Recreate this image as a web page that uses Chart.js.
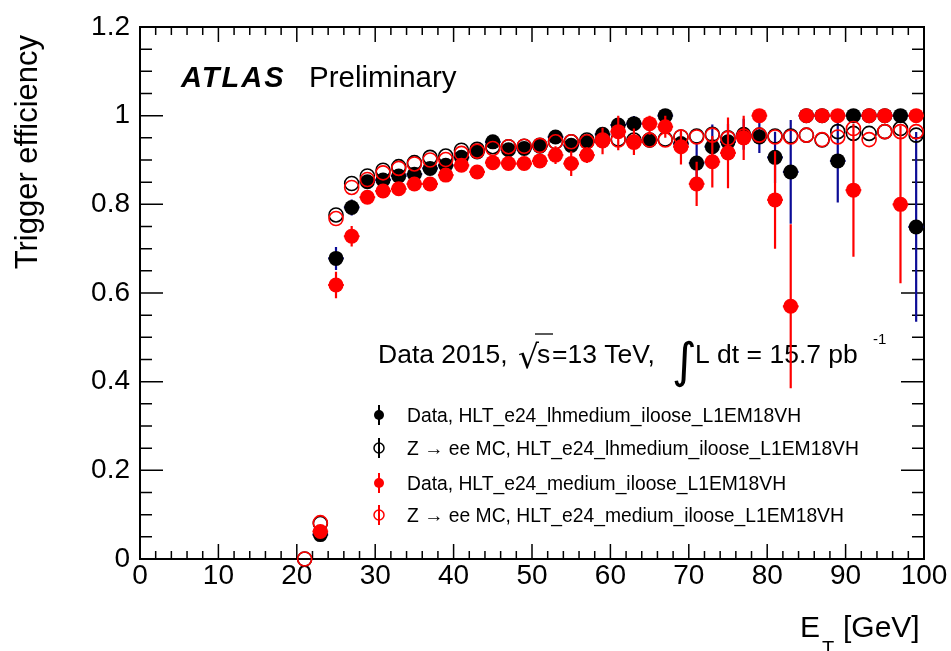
<!DOCTYPE html>
<html>
<head>
<meta charset="utf-8">
<script src="https://cdn.jsdelivr.net/npm/chart.js@4.4.1/dist/chart.umd.min.js"></script>
<style>
  body { margin: 0; background: #fff; }
  #wrap { width: 951px; height: 651px; }
</style>
</head>
<body>
<div id="wrap"><canvas id="effChart" width="951" height="651"></canvas></div>
<script>
// bin centres (2 GeV bins)
const etBins = [21, 23, 25, 27, 29, 31, 33, 35, 37, 39, 41, 43, 45, 47, 49, 51, 53, 55, 57, 59,
                61, 63, 65, 67, 69, 71, 73, 75, 77, 79, 81, 83, 85, 87, 89, 91, 93, 95, 97, 99];

const dataLh = [null, 0.055, 0.678, 0.793, 0.851, 0.855, 0.864, 0.868, 0.881, 0.888, 0.906, 0.918, 0.941, 0.923, 0.926, 0.931, 0.952, 0.933, 0.941, 0.958,
                0.979, 0.982, 0.945, 1.0, 0.937, 0.893, 0.930, 0.941, 0.958, 0.952, 0.906, 0.873, 1.0, 1.0, 0.898, 1.0, 1.0, 1.0, 1.0, 0.749];
const dataLhErr = [0, 0.008, 0.026, 0.018, 0.012, 0.01, 0.01, 0.01, 0.01, 0.01, 0.01, 0.01, 0.01, 0.012, 0.012, 0.012, 0.012, 0.012, 0.012, 0.012,
                   0.015, 0.017, 0.015, 0.03, 0.025, 0.047, 0.05, 0.04, 0.035, 0.036, 0.058, 0.117, 0, 0, 0.094, 0, 0, 0, 0, 0.214];
const mcLh = [0.0, 0.080, 0.776, 0.847, 0.864, 0.877, 0.885, 0.894, 0.906, 0.909, 0.922, 0.924, 0.930, 0.930, 0.931, 0.933, 0.941, 0.941, 0.945, 0.945,
              0.947, 0.945, 0.945, 0.947, 0.952, 0.954, 0.958, 0.950, 0.954, 0.956, 0.954, 0.954, 0.956, 0.945, 0.964, 0.960, 0.960, 0.964, 0.971, 0.956];
const dataMed = [null, 0.062, 0.618, 0.728, 0.816, 0.830, 0.835, 0.846, 0.846, 0.866, 0.888, 0.873, 0.894, 0.892, 0.892, 0.898, 0.911, 0.892, 0.911, 0.943,
                 0.964, 0.941, 0.982, 0.975, 0.930, 0.846, 0.896, 0.916, 0.950, 1.0, 0.810, 0.570, 1.0, 1.0, 1.0, 0.832, 1.0, 1.0, 0.800, 1.0];
const dataMedErr = [0, 0.01, 0.03, 0.023, 0.015, 0.012, 0.012, 0.012, 0.012, 0.012, 0.012, 0.01, 0.013, 0.013, 0.013, 0.013, 0.02, 0.028, 0.018, 0.03,
                    0.042, 0.03, 0.025, 0.025, 0.04, 0.05, 0.058, 0.08, 0.05, 0, 0.11, 0.185, 0, 0, 0, 0.15, 0, 0, 0.178, 0];
const mcMed = [0.0, 0.082, 0.768, 0.838, 0.856, 0.871, 0.881, 0.891, 0.900, 0.901, 0.915, 0.920, 0.926, 0.930, 0.931, 0.933, 0.941, 0.941, 0.941, 0.945,
               0.945, 0.940, 0.945, 0.945, 0.952, 0.952, 0.956, 0.949, 0.954, 0.956, 0.952, 0.952, 0.956, 0.946, 0.952, 0.971, 0.946, 0.964, 0.964, 0.964];

const seriesNames = [
  'Data, HLT_e24_lhmedium_iloose_L1EM18VH',
  'Z \u2192 ee MC, HLT_e24_lhmedium_iloose_L1EM18VH',
  'Data, HLT_e24_medium_iloose_L1EM18VH',
  'Z \u2192 ee MC, HLT_e24_medium_iloose_L1EM18VH'
];
const xTickLabels = ['0', '10', '20', '30', '40', '50', '60', '70', '80', '90', '100'];
const yTickLabels = ['0', '0.2', '0.4', '0.6', '0.8', '1', '1.2'];

const binHalf = 1;
const FONT = "'Liberation Sans', Arial, Helvetica, sans-serif";
const RED = '#ff0000';
const BLUE = '#0c0c96';

function points(vals) {
  return etBins.map((x, i) => ({ x: x, y: vals[i] }));
}

// vertical + horizontal error bars, drawn under each dataset's markers
const errorBars = {
  id: 'errorBars',
  beforeDatasetDraw(chart, args) {
    const ds = chart.data.datasets[args.index];
    if (!ds.errors) return;
    const { ctx, scales: { x, y } } = chart;
    ctx.save();
    ctx.strokeStyle = ds.errorColor;
    ctx.lineWidth = 2.2;
    ds.data.forEach((p, i) => {
      if (p.y == null) return;
      const e = ds.errors[i];
      const px = x.getPixelForValue(p.x);
      const py = y.getPixelForValue(p.y);
      ctx.beginPath();
      if (e > 0) {
        ctx.moveTo(px, y.getPixelForValue(Math.max(0, p.y - e)));
        ctx.lineTo(px, y.getPixelForValue(Math.min(1, p.y + e)));
      }
      ctx.moveTo(x.getPixelForValue(p.x - binHalf), py);
      ctx.lineTo(x.getPixelForValue(p.x + binHalf), py);
      ctx.stroke();
    });
    ctx.restore();
  }
};

// ROOT-style frame, inward ticks, texts and legend
const decorations = {
  id: 'decorations',
  beforeDatasetsDraw(chart) {
    const { ctx, chartArea: a, scales: { x, y } } = chart;
    ctx.save();
    ctx.strokeStyle = '#000';
    ctx.lineWidth = 2;
    ctx.strokeRect(a.left, a.top, a.right - a.left, a.bottom - a.top);

    ctx.lineWidth = 1.5;
    ctx.beginPath();
    for (let v = 0; v <= 100; v += 2) {
      const len = v % 10 === 0 ? 15 : 8;
      const px = x.getPixelForValue(v);
      ctx.moveTo(px, a.bottom); ctx.lineTo(px, a.bottom - len);
      ctx.moveTo(px, a.top); ctx.lineTo(px, a.top + len);
    }
    for (let k = 0; k <= 24; k++) {
      const len = k % 4 === 0 ? 23 : 12;
      const py = y.getPixelForValue(k * 0.05);
      ctx.moveTo(a.left, py); ctx.lineTo(a.left + len, py);
      ctx.moveTo(a.right, py); ctx.lineTo(a.right - len, py);
    }
    ctx.stroke();

    ctx.fillStyle = '#000';
    ctx.textBaseline = 'alphabetic';
    ctx.textAlign = 'left';

    // ATLAS Preliminary
    ctx.font = 'italic bold 29px ' + FONT;
    ctx.letterSpacing = '2px';
    ctx.fillText('ATLAS', 181, 87);
    ctx.letterSpacing = '0px';
    ctx.font = '29.5px ' + FONT;
    ctx.fillText('Preliminary', 309, 87);

    // Data 2015, sqrt(s)=13 TeV, int L dt = 15.7 pb-1
    ctx.font = '26.5px ' + FONT;
    ctx.fillText('Data 2015,', 378, 363);
    ctx.font = '33px DejaVu Sans, ' + FONT;
    ctx.fillText('\u221A', 518, 368);
    ctx.lineWidth = 1.3;
    ctx.beginPath();
    ctx.moveTo(535, 334); ctx.lineTo(553, 334);
    ctx.stroke();
    ctx.font = '26.5px ' + FONT;
    ctx.fillText('s', 537, 363);
    ctx.fillText('=13 TeV,', 552, 363);
    ctx.font = '48px DejaVu Sans, ' + FONT;
    ctx.fillText('\u222B', 672, 377);
    ctx.font = '26.5px ' + FONT;
    ctx.fillText('L dt = 15.7 pb', 695, 363);
    ctx.font = '15px ' + FONT;
    ctx.fillText('-1', 873, 344);

    // legend
    const rows = [415, 448, 483, 515];
    const styles = [
      { color: '#000', fill: true },
      { color: '#000', fill: false },
      { color: RED, fill: true },
      { color: RED, fill: false }
    ];
    ctx.font = '19.3px ' + FONT;
    rows.forEach((ry, i) => {
      const s = styles[i];
      ctx.strokeStyle = s.color;
      ctx.fillStyle = s.color;
      ctx.lineWidth = 2;
      ctx.beginPath();
      ctx.moveTo(379, ry - 10); ctx.lineTo(379, ry + 10);
      ctx.stroke();
      ctx.beginPath();
      ctx.arc(379, ry, 5, 0, Math.PI * 2);
      if (s.fill) ctx.fill(); else { ctx.lineWidth = 1.5; ctx.stroke(); }
      ctx.fillStyle = '#000';
      ctx.fillText(seriesNames[i], 407, ry + 7);
    });

    // axis titles
    ctx.font = '30px ' + FONT;
    ctx.fillText('E', 800, 637);
    ctx.font = '20px ' + FONT;
    ctx.fillText('T', 822, 655);
    ctx.font = '30px ' + FONT;
    ctx.fillText('[GeV]', 843, 637);

    ctx.save();
    ctx.translate(37, 35);
    ctx.rotate(-Math.PI / 2);
    ctx.textAlign = 'right';
    ctx.font = '31px ' + FONT;
    ctx.fillText('Trigger efficiency', 0, 0);
    ctx.restore();

    ctx.restore();
  }
};

const ctx = document.getElementById('effChart').getContext('2d');
window.effChart = new Chart(ctx, {
  type: 'scatter',
  data: {
    datasets: [
      {
        label: seriesNames[3], data: points(mcMed), order: 0,
        pointRadius: 7, pointBorderWidth: 1.6, pointBorderColor: RED,
        pointBackgroundColor: 'rgba(0,0,0,0)', clip: false
      },
      {
        label: seriesNames[2], data: points(dataMed), order: 1,
        errors: dataMedErr, errorColor: RED,
        pointRadius: 7.5, pointBorderWidth: 0, pointBackgroundColor: RED, clip: false
      },
      {
        label: seriesNames[1], data: points(mcLh), order: 2,
        pointRadius: 7, pointBorderWidth: 1.6, pointBorderColor: '#000',
        pointBackgroundColor: 'rgba(0,0,0,0)', clip: false
      },
      {
        label: seriesNames[0], data: points(dataLh), order: 3,
        errors: dataLhErr, errorColor: BLUE,
        pointRadius: 7.5, pointBorderWidth: 0, pointBackgroundColor: '#000', clip: false
      }
    ]
  },
  options: {
    responsive: false,
    animation: false,
    events: [],
    layout: { padding: { left: 0, top: 27, right: 27, bottom: 0 } },
    plugins: {
      legend: { display: false },
      tooltip: { enabled: false }
    },
    scales: {
      x: {
        type: 'linear', min: 0, max: 100,
        afterFit: s => { s.height = 92; },
        grid: { display: false, drawTicks: false },
        border: { display: false },
        ticks: {
          stepSize: 10, autoSkip: false, maxRotation: 0, padding: 0,
          color: '#000', font: { family: FONT, size: 28 },
          callback: (v) => xTickLabels[Math.round(v / 10)]
        }
      },
      y: {
        type: 'linear', min: 0, max: 1.2,
        afterFit: s => { s.width = 140; },
        grid: { display: false, drawTicks: false },
        border: { display: false },
        ticks: {
          stepSize: 0.2, autoSkip: false, padding: 10,
          color: '#000', font: { family: FONT, size: 28 },
          callback: (v) => yTickLabels[Math.round(v / 0.2)]
        }
      }
    }
  },
  plugins: [errorBars, decorations]
});
</script>
</body>
</html>
